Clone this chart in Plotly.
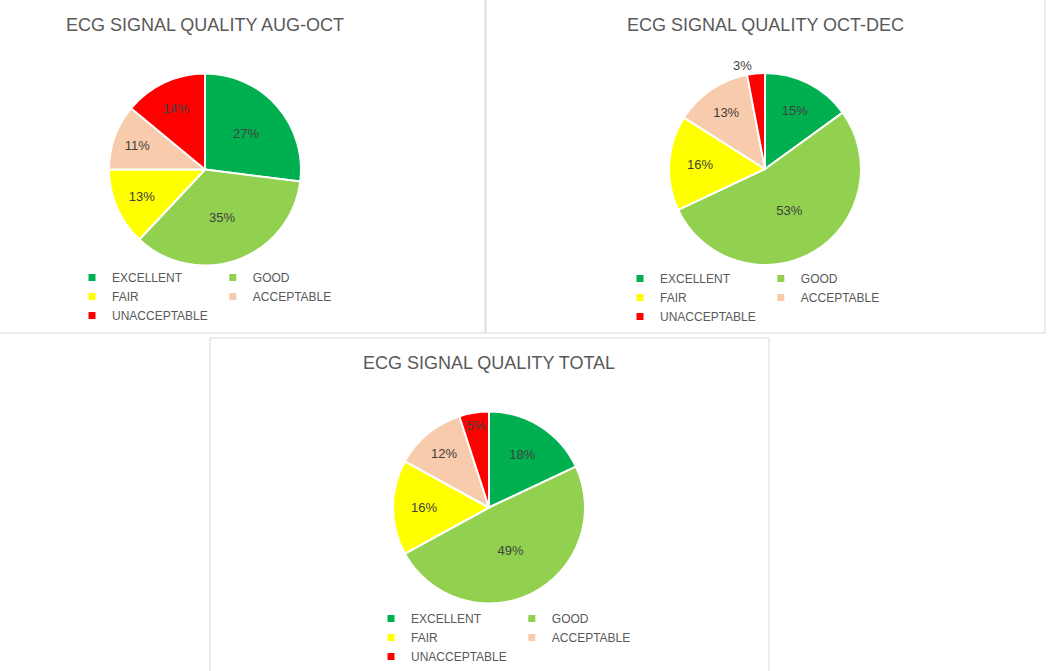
import plotly.graph_objects as go

W, H = 1050, 671

categories = ["EXCELLENT", "GOOD", "FAIR", "ACCEPTABLE", "UNACCEPTABLE"]
colors = ["#00B050", "#92D050", "#FFFF00", "#F8CBAD", "#FF0000"]
aug_oct = [27, 35, 13, 11, 14]
oct_dec = [15, 53, 16, 13, 3]
total = [18, 49, 16, 12, 5]
titles = ["ECG SIGNAL QUALITY AUG-OCT", "ECG SIGNAL QUALITY OCT-DEC", "ECG SIGNAL QUALITY TOTAL"]
column_of = [1, 2, 1, 2, 1]  # legend column for each category

FONT = "Liberation Sans"
TXT = "#595959"


def px_x(v):
    return v / W


def px_y(v):
    return 1 - v / H


# panel layout in pixels
panels = [
    dict(cx=205, cy=169.5, r=96, ty=25, lx=72, ly=263, frame=(-3, -3, 485, 333)),
    dict(cx=765, cy=169, r=96, ty=25, lx=620, ly=264, frame=(486, -3, 1045, 333)),
    dict(cx=489, cy=507.5, r=96, ty=363, lx=371, ly=604, frame=(210, 338, 769, 675)),
]
series = [aug_oct, oct_dec, total]
textpos = [
    ["inside"] * 5,
    ["inside", "inside", "inside", "inside", "outside"],
    ["inside"] * 5,
]

fig = go.Figure()
annotations = []
shapes = []
legends = {}

for i, (p, vals) in enumerate(zip(panels, series)):
    lname = "legend" if i == 0 else f"legend{i + 1}"
    fig.add_trace(go.Pie(
        labels=categories,
        values=vals,
        sort=False,
        direction="clockwise",
        rotation=0,
        marker=dict(colors=colors, line=dict(color="white", width=2)),
        textinfo="percent",
        textposition=textpos[i],
        insidetextorientation="horizontal",
        textfont=dict(family=FONT, size=13, color="#404040"),
        showlegend=False,
        domain=dict(
            x=[px_x(p["cx"] - p["r"]), px_x(p["cx"] + p["r"])],
            y=[px_y(p["cy"] + p["r"]), px_y(p["cy"] - p["r"])],
        ),
        hoverinfo="label+percent",
    ))
    # legend entries (two columns via legend groups)
    for cat, col, c in zip(categories, column_of, colors):
        fig.add_trace(go.Scatter(
            x=[None], y=[None], mode="markers",
            marker=dict(symbol="square", size=7, color=c),
            name=cat,
            legend=lname,
            legendgroup=f"p{i}c{col}",
            showlegend=True,
        ))
    legends[lname] = dict(
        orientation="h",
        traceorder="grouped",
        tracegroupgap=0,
        x=px_x(p["lx"]), xanchor="left",
        y=px_y(p["ly"]), yanchor="top",
        font=dict(family=FONT, size=12, color=TXT),
        bgcolor="rgba(0,0,0,0)",
        itemwidth=30,
    )
    annotations.append(dict(
        text=titles[i], xref="paper", yref="paper",
        x=px_x(p["cx"]), y=px_y(p["ty"]), xanchor="center", yanchor="middle",
        showarrow=False, font=dict(family=FONT, size=18, color=TXT),
    ))
    fx0, fy0, fx1, fy1 = p["frame"]
    shapes.append(dict(
        type="rect", xref="paper", yref="paper",
        x0=px_x(fx0), x1=px_x(fx1), y0=px_y(fy1), y1=px_y(fy0),
        line=dict(color="#D9D9D9", width=1), fillcolor="rgba(0,0,0,0)", layer="below",
    ))

fig.update_layout(
    width=W, height=H,
    margin=dict(l=0, r=0, t=0, b=0),
    paper_bgcolor="white",
    plot_bgcolor="white",
    xaxis=dict(visible=False),
    yaxis=dict(visible=False),
    annotations=annotations,
    shapes=shapes,
    **legends,
)

fig.write_html("out.html")
